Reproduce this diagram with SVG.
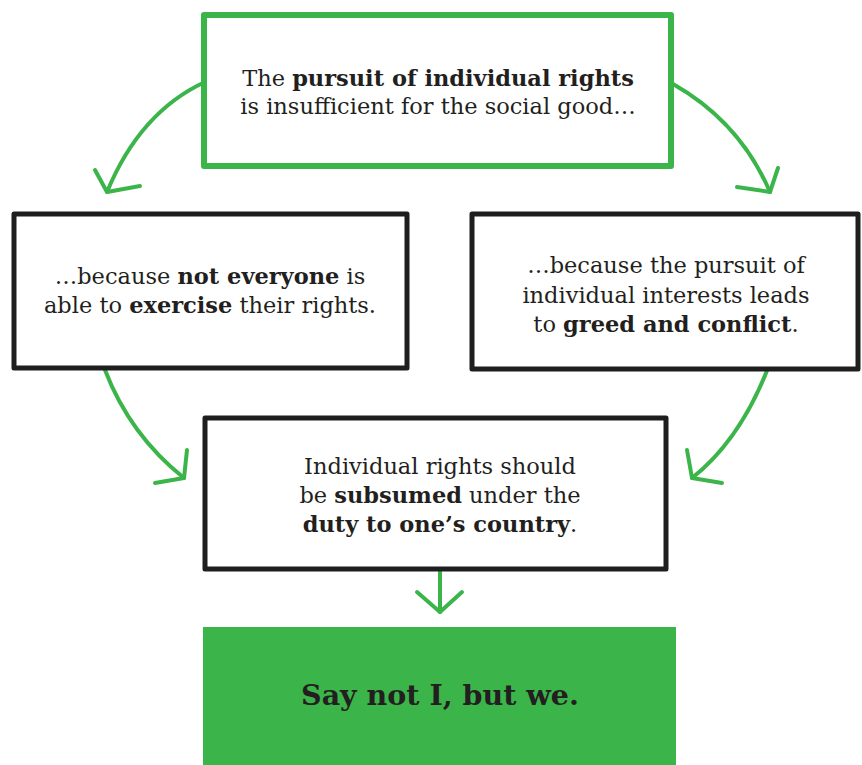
<svg xmlns="http://www.w3.org/2000/svg" width="862" height="765" viewBox="0 0 862 765">
<style>
.t{font-family:"DejaVu Serif","Liberation Serif",serif;font-size:22.5px;fill:#231f20;text-anchor:middle}
.b{font-weight:bold}
.box{fill:#fff;stroke:#1e1e1e;stroke-width:5;stroke-linejoin:round}
.gbox{fill:#fff;stroke:#3bb54a;stroke-width:6;stroke-linejoin:round}
.c{fill:none;stroke:#3bb54a;stroke-width:4;stroke-linecap:round;stroke-linejoin:round}
</style>
<rect width="862" height="765" fill="#fff"/>
<g id="connectors">
<path class="c" d="M205,82 Q140,112 107,192"/>
<path class="c" d="M95,170 L107,192 L140,186"/>
<path class="c" d="M673,84 Q740,122 770,192"/>
<path class="c" d="M778,168 L770,192 L737,187"/>
<path class="c" d="M105,370 Q130,435 184,478"/>
<path class="c" d="M187,450 L184,478 L155,483"/>
<path class="c" d="M768,368 Q740,440 692,478"/>
<path class="c" d="M687,450 L692,478 L722,483"/>
<path class="c" d="M440,572 L440,612"/>
<path class="c" d="M417,592 L440,612 L462,592"/>
</g>
<g id="top">
<rect class="gbox" x="204" y="15" width="467" height="151"/>
<text class="t" x="438" y="86">The <tspan class="b">pursuit of individual rights</tspan></text>
<text class="t" x="438" y="114">is insufficient for the social good…</text>
</g>
<g id="left">
<rect class="box" x="14" y="214" width="393" height="154"/>
<text class="t" x="210" y="284">…because <tspan class="b">not everyone</tspan> is</text>
<text class="t" x="210" y="313">able to <tspan class="b">exercise</tspan> their rights.</text>
</g>
<g id="right">
<rect class="box" x="472" y="214" width="386" height="155"/>
<text class="t" x="666" y="273">…because the pursuit of</text>
<text class="t" x="666" y="303">individual interests leads</text>
<text class="t" x="666" y="332">to <tspan class="b">greed and conflict</tspan>.</text>
</g>
<g id="middle">
<rect class="box" x="205" y="418" width="461" height="151"/>
<text class="t" x="440" y="474">Individual rights should</text>
<text class="t" x="440" y="503">be <tspan class="b">subsumed</tspan> under the</text>
<text class="t" x="440" y="532"><tspan class="b">duty to one’s country</tspan>.</text>
</g>
<g id="bottom">
<rect x="203" y="627" width="473" height="140" fill="#3bb54a"/>
<text class="t b" x="440" y="705" style="font-size:28.5px">Say not I, but we.</text>
</g>
</svg>
